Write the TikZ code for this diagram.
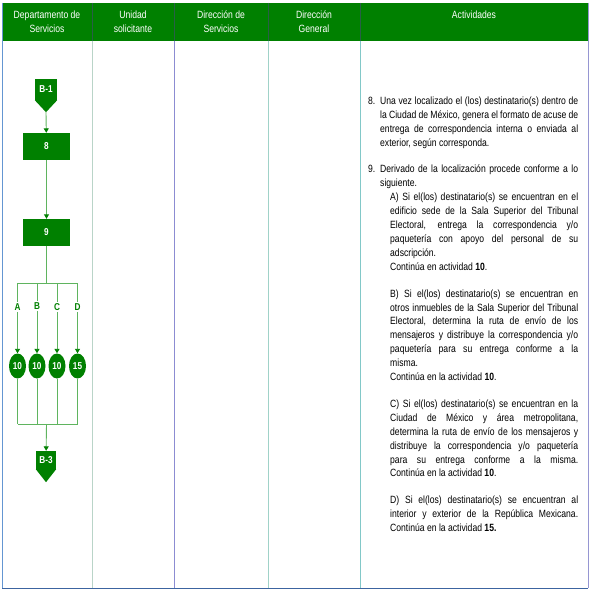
\documentclass[tikz,border=0pt]{standalone}
\usepackage{fontspec}
\setmainfont[FakeStretch=0.82]{Liberation Sans}
\usetikzlibrary{calc}
\usetikzlibrary{arrows.meta}
\usetikzlibrary{shapes.geometric}
\definecolor{flowgreen}{RGB}{0,128,0}
\definecolor{linkgreen}{RGB}{95,180,95}
\definecolor{hdrline}{RGB}{40,95,70}
\definecolor{laneA}{RGB}{100,150,210}
\definecolor{laneB}{RGB}{185,212,200}
\definecolor{laneC}{RGB}{140,140,210}
\definecolor{laneD}{RGB}{160,210,200}
\definecolor{laneE}{RGB}{130,200,200}
\definecolor{laneF}{RGB}{150,150,210}
\definecolor{laneBot}{RGB}{60,100,160}
\newcommand\actsize{\fontsize{10.5}{13.9}\selectfont}

\begin{document}
\begin{tikzpicture}[x=1pt,y=-1pt,
  hdrtext/.style={anchor=north,align=center,inner sep=0pt,text=white,font=\fontsize{10.5}{14}\selectfont},
  flowbox/.style={fill=flowgreen,minimum width=47pt,minimum height=27pt,inner sep=0pt,text=white,font=\bfseries\fontsize{10}{10}\selectfont},
  pagecon/.style={fill=flowgreen,inner sep=0pt,text=white,font=\bfseries\fontsize{10}{10}\selectfont},
  endcirc/.style={ellipse,fill=flowgreen,minimum width=17pt,minimum height=25pt,inner sep=0pt,text=white,font=\bfseries\fontsize{10}{10}\selectfont},
  branchlbl/.style={inner sep=1.5pt,text=flowgreen,font=\bfseries\fontsize{10}{10}\selectfont},
  link/.style={draw=linkgreen,line width=0.9pt},
  linkarrow/.style={link,-{Triangle[width=5pt,length=4.5pt,color=flowgreen]}}]
\useasboundingbox (0,0) rectangle (590,591);

% header
\fill[flowgreen] (2,3) rectangle (588,41);
\draw[hdrline,line width=0.6pt] (92,3) -- (92,41);
\draw[hdrline,line width=0.6pt] (174,3) -- (174,41);
\draw[hdrline,line width=0.6pt] (268,3) -- (268,41);
\draw[hdrline,line width=0.6pt] (360,3) -- (360,41);

\node[hdrtext] (hdep) at (47,10.5) {Departamento de\\Servicios};
\node[hdrtext] (huni) at (133,10.5) {Unidad\\solicitante};
\node[hdrtext] (hdir) at (221,10.5) {Dirección de\\Servicios};
\node[hdrtext] (hgen) at (314,10.5) {Dirección\\General};
\node[hdrtext] (hact) at (474,10.5) {Actividades};

% lanes
\draw[laneA,line width=1pt] (2,3) -- (2,588);
\draw[laneB,line width=1pt] (92,41) -- (92,588);
\draw[laneC,line width=1pt] (174,41) -- (174,588);
\draw[laneD,line width=1pt] (268,41) -- (268,588);
\draw[laneE,line width=1pt] (360,41) -- (360,588);
\draw[laneF,line width=1pt] (588,3) -- (588,588);
\draw[laneBot,line width=1pt] (2,588) -- (588,588);

% flow
\node[pagecon,minimum width=22pt,minimum height=21pt] (b1) at (46,89.5) {B-1};
\fill[flowgreen] (b1.south west) -- (b1.south east) -- ($(b1.south)+(0,12)$) -- cycle;
\coordinate (b1tip) at ($(b1.south)+(0,12)$);

\node[flowbox] (n8) at (46.5,146.5) {8};
\node[flowbox] (n9) at (46.5,232.5) {9};

\draw[linkarrow] (b1tip) -- (n8);
\draw[linkarrow] (n8) -- (n9);

\coordinate (fork) at (46.5,283);
\coordinate (forkL) at (17.5,283);
\coordinate (forkR) at (77.5,283);
\draw[link] (n9) -- (fork);
\draw[link] (forkL) -- (forkR);

\node[branchlbl] (lblA) at (17.5,307) {A};
\node[branchlbl] (lblB) at (37,306) {B};
\node[branchlbl] (lblC) at (57,307) {C};
\node[branchlbl] (lblD) at (77.5,307) {D};

\node[endcirc] (cA) at (17.5,366) {10};
\node[endcirc] (cB) at (37,366) {10};
\node[endcirc] (cC) at (57,366) {10};
\node[endcirc] (cD) at (77.5,366) {15};

\draw[link] (forkL) -- (lblA);
\draw[link] (lblB |- fork) -- (lblB);
\draw[link] (lblC |- fork) -- (lblC);
\draw[link] (forkR) -- (lblD);
\draw[linkarrow] (lblA) -- (cA);
\draw[linkarrow] (lblB) -- (cB);
\draw[linkarrow] (lblC) -- (cC);
\draw[linkarrow] (lblD) -- (cD);

\coordinate (join) at (46.5,424);
\coordinate (joinL) at (17.5,424);
\coordinate (joinR) at (77.5,424);
\draw[link] (cA) -- (joinL);
\draw[link] (cB) -- (cB |- join);
\draw[link] (cC) -- (cC |- join);
\draw[link] (cD) -- (joinR);
\draw[link] (joinL) -- (joinR);

\node[pagecon,minimum width=20pt,minimum height=18pt] (b3) at (46,460) {B-3};
\fill[flowgreen] (b3.south west) -- (b3.south east) -- ($(b3.south)+(0,13)$) -- cycle;
\draw[linkarrow] (join) -- (b3);

% activities
\node[anchor=north west,inner sep=0pt,text width=210pt,align=justify,font=\actsize] (act) at (368,96.5) {%
\parindent=0pt\parskip=0pt
\hangindent=12pt\hangafter=1\makebox[12pt][l]{8.}Una vez localizado el (los) destinatario(s) dentro de\linebreak
la Ciudad de México, genera el formato de acuse de\linebreak
entrega de correspondencia interna o enviada al\linebreak
exterior, según corresponda.\par
\vskip13pt
\hangindent=12pt\hangafter=1\makebox[12pt][l]{9.}Derivado de la localización procede conforme a lo\linebreak
siguiente.\par
\leftskip=22pt
A) Si el(los) destinatario(s) se encuentran en el\linebreak
edificio sede de la Sala Superior del Tribunal\linebreak
Electoral, entrega la correspondencia y/o\linebreak
paquetería con apoyo del personal de su\linebreak
adscripción.\newline
Continúa en actividad \textbf{10}.\par
\vskip13pt
B) Si el(los) destinatario(s) se encuentran en\linebreak
otros inmuebles de la Sala Superior del Tribunal\linebreak
Electoral, determina la ruta de envío de los\linebreak
mensajeros y distribuye la correspondencia y/o\linebreak
paquetería para su entrega conforme a la\linebreak
misma.\newline
Continúa en la actividad \textbf{10}.\par
\vskip13pt
C) Si el(los) destinatario(s) se encuentran en la\linebreak
Ciudad de México y área metropolitana,\linebreak
determina la ruta de envío de los mensajeros y\linebreak
distribuye la correspondencia y/o paquetería\linebreak
para su entrega conforme a la misma.\linebreak
Continúa en la actividad \textbf{10}.\par
\vskip13pt
D) Si el(los) destinatario(s) se encuentran al\linebreak
interior y exterior de la República Mexicana.\linebreak
Continúa en la actividad \textbf{15.}\par};
\end{tikzpicture}
\end{document}
